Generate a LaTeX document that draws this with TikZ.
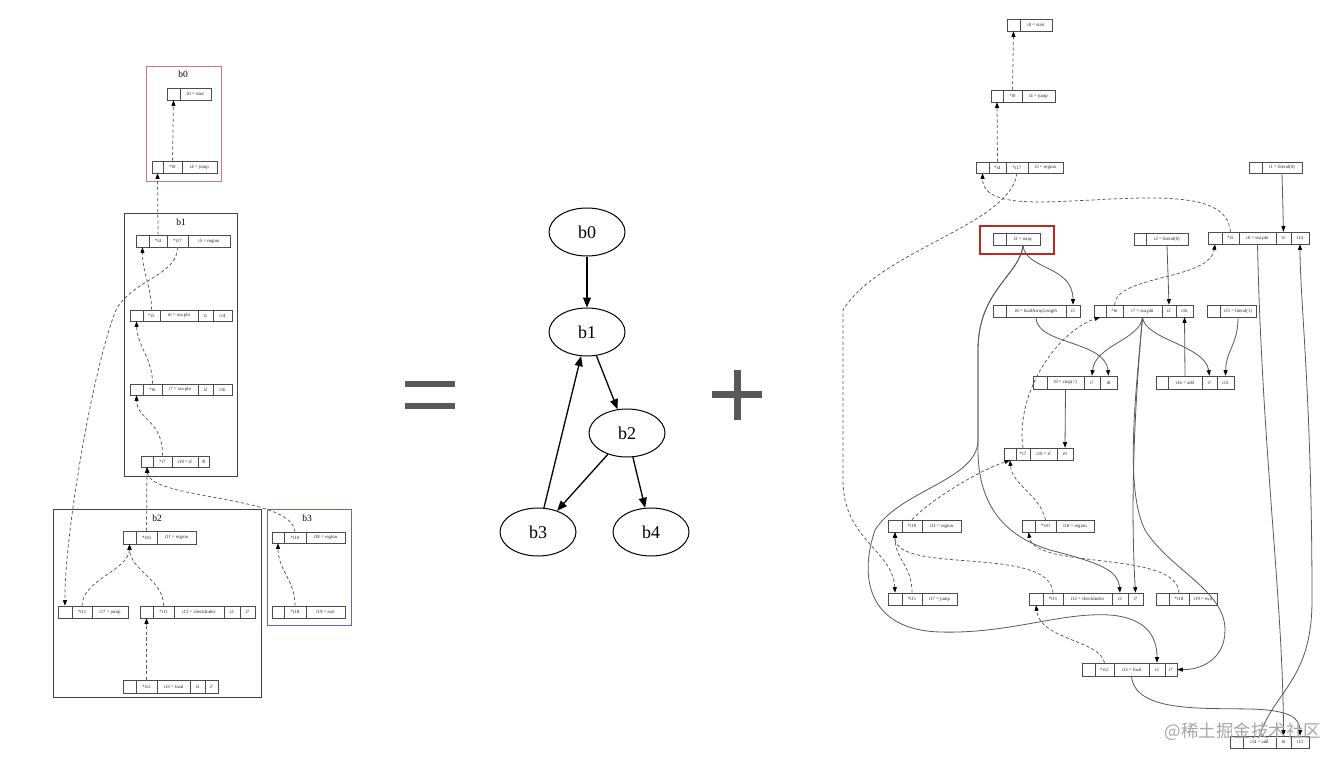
\documentclass[tikz,border=0pt]{standalone}
\usepackage{fontspec}
\setmainfont{Liberation Serif}
\newfontfamily\cjkfont{Noto Sans CJK SC}
\usetikzlibrary{arrows.meta,shapes.geometric}
\tikzset{
 rcell/.style={draw=black!70, line width=0.55pt, inner sep=0pt, font=\fontsize{4.8}{5}\selectfont, text=black!85},
 dep/.style={draw=black!65, line width=0.75pt, dash pattern=on 3.2pt off 2.4pt, -{Triangle[length=5.5pt,width=4pt,color=black]}},
 use/.style={draw=black!65, line width=0.8pt, -{Triangle[length=5.5pt,width=4pt,color=black]}},
 gnode/.style={ellipse, draw=black, line width=1pt, minimum width=76pt, minimum height=48pt, inner sep=0pt, font=\fontsize{18}{18}\selectfont},
 garr/.style={draw=black, line width=1.3pt, -{Triangle[length=10pt,width=8pt]}},
 clab/.style={font=\fontsize{9.5}{9.5}\selectfont, inner sep=0pt},
 sign/.style={fill=black!65},
}
\newcommand{\mkrec}[5]{%
 \foreach \xe/\lab [count=\k, remember=\xe as \xs (initially #4)] in {#5}{%
  \node[rcell, minimum width={(\xe-\xs)*1pt}, minimum height={(#3-#2)*1pt}] (#1-\k) at ({(\xs+\xe)/2},{(#2+#3)/2}) {\lab};
 }}
\begin{document}
\begin{tikzpicture}[x=1pt,y=-1pt]
\useasboundingbox (0,0) rectangle (1344,762);
\fill[white] (0,0) rectangle (1344,762);

% ---------------- left: clusters ----------------
\draw[line width=0.7pt, draw={rgb,255:red,214;green,120;blue,130}] (146,66) rectangle (221,181);
\draw[line width=0.7pt, draw=black!75] (124,213) rectangle (237,476);
\draw[line width=0.7pt, draw=black!75] (53,509) rectangle (261,697);
\draw[line width=0.7pt, draw={rgb,255:red,100;green,100;blue,190}] (267,509) rectangle (351,625);
\node[clab] (lb0) at (183,74) {b0};
\node[clab] (lb1) at (181,222) {b1};
\node[clab] (lb2) at (157,518) {b2};
\node[clab] (lb3) at (307,518) {b3};

% ---------------- left: records ----------------
\mkrec{L-i0}{88}{100}{167}{180/{},211/{i0 = start}}
\mkrec{L-i4}{161}{173}{152}{163/{},182/{*i0},217/{i4 = jump}}
\mkrec{L-i5}{235}{247}{136}{149/{},167/{*i4},188/{*i17},230/{i5 = region}}
\mkrec{L-i6}{310}{321}{130}{143/{},160/{*i5},198/{i6 = ssa.phi},213/{i1},232/{i14}}
\mkrec{L-i7}{384}{395}{130}{143/{},162/{*i6},198/{i7 = ssa.phi},213/{i2},232/{i16}}
\mkrec{L-i10}{456}{467}{141}{153/{},172/{*i7},198/{i10 = if},209/{i9}}
\mkrec{L-i11}{531}{544}{123}{136/{},157/{*i10},196/{i11 = region}}
\mkrec{L-i17}{606}{618}{58}{72/{},92/{*i11},128/{i17 = jump}}
\mkrec{L-i12}{606}{618}{140}{153/{},174/{*i11},224/{i12 = checkIndex},240/{i3},255/{i7}}
\mkrec{L-i13}{680}{693}{123}{136/{},157/{*i12},190/{i13 = load},205/{i3},218/{i7}}
\mkrec{L-i18}{532}{543}{272}{284/{},306/{*i10},345/{i18 = region}}
\mkrec{L-i19}{606}{618}{272}{284/{},306/{*i18},345/{i19 = exit}}

% ---------------- left: edges ----------------
\draw[dep] (L-i4-2.north) -- (L-i0-1.south);
\draw[dep] (L-i5-2.north) -- (L-i4-1.south);
\draw[dep] (L-i6-2.north) .. controls (152,290) and (142,270) .. (L-i5-1.south);
\draw[dep] (L-i7-2.north) .. controls (153,360) and (137,345) .. (L-i6-1.south);
\draw[dep] (L-i10-2.north) .. controls (163,420) and (137,420) .. (L-i7-1.south);
\draw[dep] (L-i11-2.north) -- (L-i10-1.south);
\draw[dep] (L-i18-2.north) .. controls (292,495) and (150,500) .. (L-i10-1.south);
\draw[dep] (L-i5-3.south) .. controls (178,275) and (132,280) .. (116,310) .. controls (92,370) and (64,540) .. (L-i17-1.north);
\draw[dep] (L-i17-2.north) .. controls (82,580) and (129,570) .. (L-i11-1.south);
\draw[dep] (L-i12-2.north) .. controls (164,580) and (130,570) .. (L-i11-1.south);
\draw[dep] (L-i13-2.north) -- (L-i12-1.south);
\draw[dep] (L-i19-2.north) .. controls (295,580) and (278,570) .. (L-i18-1.south);

% ---------------- middle ----------------
\fill[sign] (405,381) rectangle (455,387);
\fill[sign] (405,403) rectangle (455,409);
\fill[sign] (712,391) rectangle (762,398);
\fill[sign] (734,370) rectangle (741,420);

\node[gnode] (g0) at (587,232) {b0};
\node[gnode] (g1) at (587,332) {b1};
\node[gnode] (g2) at (627,433) {b2};
\node[gnode] (g3) at (538,532) {b3};
\node[gnode] (g4) at (651,532) {b4};
\draw[garr] (g0) -- (g1);
\draw[garr] (g1) -- (g2);
\draw[garr] (g2) -- (g3);
\draw[garr] (g2) -- (g4);
\draw[garr] (g3) -- (g1);

% ---------------- right: records ----------------
\mkrec{R-i0}{19}{31}{1007}{1020/{},1052/{i0 = start}}
\mkrec{R-i4}{90}{102}{991}{1003/{},1022/{*i0},1055/{i4 = jump}}
\mkrec{R-i5}{162}{173}{976}{989/{},1006/{*i4},1028/{*i17},1063/{i5 = region}}
\mkrec{R-i1}{162}{173}{1249}{1262/{},1302/{i1 = literal(0)}}
\mkrec{R-i3}{233}{245}{993}{1006/{},1040/{i3 = array}}
\mkrec{R-i2}{233}{245}{1134}{1146/{},1188/{i2 = literal(0)}}
\mkrec{R-i6}{232}{244}{1208}{1222/{},1239/{*i5},1276/{i6 = ssa.phi},1291/{i1},1309/{i14}}
\mkrec{R-i8}{305}{317}{993}{1006/{},1066/{i8 = loadArrayLength},1080/{i3}}
\mkrec{R-i7}{305}{317}{1094}{1106/{},1123/{*i6},1162/{i7 = ssa.phi},1176/{i2},1193/{i16}}
\mkrec{R-i15}{305}{317}{1207}{1220/{},1256/{i15 = literal(1)}}
\mkrec{R-i9}{376}{389}{1033}{1047/{},1084/{i9 = cmp(<)},1100/{i7},1117/{i8}}
\mkrec{R-i16}{376}{389}{1156}{1168/{},1202/{i16 = add},1217/{i7},1234/{i15}}
\mkrec{R-i10}{448}{460}{1004}{1016/{},1030/{*i7},1057/{i10 = if},1073/{i9}}
\mkrec{R-i11}{520}{532}{888}{902/{},922/{*i10},961/{i11 = region}}
\mkrec{R-i18}{520}{532}{1022}{1035/{},1056/{*i10},1094/{i18 = region}}
\mkrec{R-i17}{593}{605}{888}{902/{},922/{*i11},957/{i17 = jump}}
\mkrec{R-i12}{593}{605}{1029}{1043/{},1063/{*i11},1112/{i12 = checkIndex},1128/{i3},1143/{i7}}
\mkrec{R-i19}{593}{605}{1156}{1169/{},1189/{*i18},1217/{i19 = exit}}
\mkrec{R-i13}{663}{676}{1082}{1095/{},1114/{*i12},1149/{i13 = load},1165/{i3},1177/{i7}}
\mkrec{R-i14}{736}{748}{1230}{1243/{},1276/{i14 = add},1291/{i6},1309/{i13}}

\draw[line width=2pt, draw={rgb,255:red,190;green,40;blue,35}] (980,226) rectangle (1054,254);

% ---------------- right: dashed edges ----------------
\draw[dep] (R-i4-2.north) -- (R-i0-1.south);
\draw[dep] (R-i5-2.north) -- (R-i4-1.south);
\draw[dep] (R-i5-3.south) .. controls (1010,225) and (880,250) .. (843,310) -- (843,480) .. controls (843,540) and (893,550) .. (R-i17-1.north);
\draw[dep] (R-i6-2.north) .. controls (1228,210) and (1210,198) .. (1150,198) .. controls (1070,198) and (983,215) .. (R-i5-1.south);
\draw[dep] (R-i7-2.north) .. controls (1116,275) and (1210,280) .. (R-i6-1.south);
\draw[dep] (R-i10-2.north) .. controls (1015,390) and (1060,330) .. (R-i7-1.south);
\draw[dep] (R-i11-2.north) .. controls (930,500) and (980,470) .. (R-i10-1.south);
\draw[dep] (R-i18-2.north) .. controls (1040,495) and (1012,485) .. (R-i10-1.south);
\draw[dep] (R-i17-2.north) .. controls (912,565) and (895,560) .. (R-i11-1.south);
\draw[dep] (R-i12-2.north) .. controls (1050,545) and (895,575) .. (R-i11-1.south);
\draw[dep] (R-i19-2.north) .. controls (1177,550) and (1035,570) .. (R-i18-1.south);
\draw[dep] (R-i13-2.north) .. controls (1100,640) and (1040,640) .. (R-i12-1.south);

% ---------------- right: solid edges ----------------
\draw[use] (R-i1-2.south) -- (R-i6-4.north);
\draw[use] (R-i2-2.south) -- (R-i7-4.north);
\draw[use] (R-i3-2.south) .. controls (1025,270) and (1073,265) .. (R-i8-3.north);
\draw[use] (R-i3-2.south) .. controls (1020,275) and (978,290) .. (978,350) -- (978,450) .. controls (978,500) and (1000,535) .. (1050,550) .. controls (1100,563) and (1118,570) .. (R-i12-4.north);
\draw[use] (R-i3-2.south) .. controls (1020,275) and (978,290) .. (978,350) -- (978,440) .. controls (978,480) and (900,490) .. (875,530) .. controls (858,580) and (870,630) .. (940,632) .. controls (1010,634) and (1060,612) .. (1110,615) .. controls (1145,618) and (1157,635) .. (R-i13-4.north);
\draw[use] (R-i8-2.south) .. controls (1036,345) and (1105,340) .. (R-i9-4.north);
\draw[use] (R-i7-3.south) .. controls (1140,340) and (1095,345) .. (R-i9-3.north);
\draw[use] (R-i7-3.south) .. controls (1145,340) and (1205,345) .. (R-i16-3.north);
\draw[use] (R-i15-2.south) .. controls (1238,345) and (1226,350) .. (R-i16-4.north);
\draw[use] (R-i16-2.north) -- (R-i7-5.south);
\draw[use] (R-i9-2.south) -- (R-i10-4.north);
\draw[use] (R-i7-3.south) .. controls (1135,400) and (1130,500) .. (R-i12-5.north);
\draw[use] (R-i7-3.south) .. controls (1135,400) and (1125,490) .. (1145,530) .. controls (1170,570) and (1225,590) .. (1225,630) .. controls (1225,660) and (1200,670) .. (R-i13-5.east);
\draw[use] (R-i6-3.south) .. controls (1262,450) and (1283,600) .. (R-i14-3.north);
\draw[use] (R-i13-3.south) .. controls (1135,712) and (1200,708) .. (1250,709) .. controls (1290,710) and (1300,718) .. (R-i14-4.north);
\draw[use] (R-i14-2.north) .. controls (1275,690) and (1312,680) .. (1312,600) .. controls (1312,400) and (1300,300) .. (R-i6-5.south);

% watermark
\node[font=\cjkfont\fontsize{17.5}{17.5}\selectfont, text=black!35, inner sep=0pt] (wm) at (1243,732) {@稀土掘金技术社区};
\end{tikzpicture}
\end{document}
